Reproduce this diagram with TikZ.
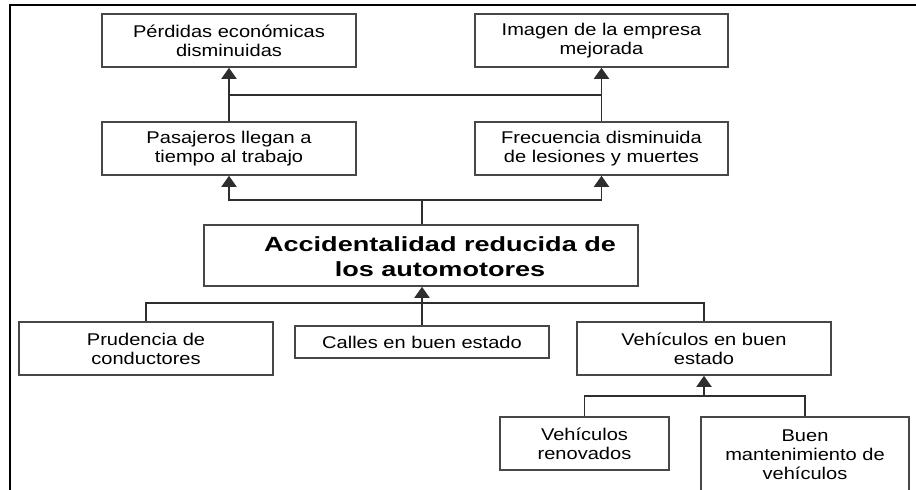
\documentclass[tikz,border=0pt]{standalone}
\usepackage{fontspec}
\setmainfont{Liberation Sans}[FakeStretch=1.18]
\newfontfamily\bigbold{Liberation Sans Bold}[FakeStretch=1.32]
\usetikzlibrary{arrows.meta}
\begin{document}
\begin{tikzpicture}[x=1pt,y=-1pt,
  box/.style={draw=black!72, line width=1.6pt, fill=white, align=center, inner sep=0pt,
    font=\fontsize{17}{19}\selectfont, text=black},
  conn/.style={draw=black!82, line width=1.9pt},
  arr/.style={conn, -{Triangle[width=15pt,length=11pt]}}]
\useasboundingbox (0,0) rectangle (916,490);
% frame
\draw[line width=2.2pt, black] (10,492) -- (10,5) -- (918,5);
% top row
\node[box, minimum width=254pt, minimum height=53pt] (perd) at (229,40.5) {Pérdidas económicas\\disminuidas};
\node[box, minimum width=253pt, minimum height=53pt] (imag) at (601.5,40.5) {Imagen de la empresa\\mejorada};
% second row
\node[box, minimum width=254pt, minimum height=53pt] (pasa) at (229,148.5) {Pasajeros llegan a\\tiempo al trabajo};
\node[box, minimum width=253pt, minimum height=53pt] (frec) at (601.5,148.5) {Frecuencia disminuida\\de lesiones y muertes};
% main
\node[box, minimum width=434pt, minimum height=61pt] (main) at (421,255.5) {};
\node[align=center, inner sep=0pt, text=black, font=\bigbold\fontsize{20.5}{24.5}\selectfont] (maintext) at ([xshift=19pt,yshift=-1pt]main.center) {Accidentalidad reducida de\\los automotores};
% causes
\node[box, minimum width=254pt, minimum height=53pt] (prud) at (146,348.5) {Prudencia de\\conductores};
\node[box, minimum width=254pt, minimum height=32pt] (call) at (422,342) {Calles en buen estado};
\node[box, minimum width=254pt, minimum height=53pt] (vbe) at (704,348.5) {Vehículos en buen\\estado};
\node[box, minimum width=169pt, minimum height=53pt] (vren) at (584.5,443.5) {Vehículos\\renovados};
\node[box, minimum width=208pt, minimum height=84pt] (bman) at (805,459) {};
\node[align=center, inner sep=0pt, text=black, font=\fontsize{17}{19}\selectfont] (bmantext) at (805,455) {Buen\\mantenimiento de\\vehículos};
% connectors top
\coordinate (jt) at (229,95);
\coordinate (jtr) at (601.5,95);
\draw[arr] (pasa.north) -- (perd.south);
\draw[arr] (frec.north) -- (imag.south);
\draw[conn] (jt) -- (jtr);
% connectors middle
\coordinate (jm) at (422,200);
\coordinate (jml) at (229,200);
\coordinate (jmr) at (601.5,200);
\draw[conn] (main.north -| jm) -- (jm);
\draw[arr] (jm) -- (jml) -- (pasa.south);
\draw[arr] (jm) -- (jmr) -- (frec.south);
% connectors bottom
\coordinate (jb) at (422,303);
\draw[arr] (call.north) -- (call.north |- main.south);
\draw[conn] (prud.north) -- (prud.north |- jb) -- (vbe.north |- jb) -- (vbe.north);
% vehicles
\coordinate (jv) at (704,396);
\draw[arr] (jv) -- (vbe.south);
\draw[conn] (vren.north) -- (vren.north |- jv) -- (bman.north |- jv) -- (bman.north);
\end{tikzpicture}
\end{document}
